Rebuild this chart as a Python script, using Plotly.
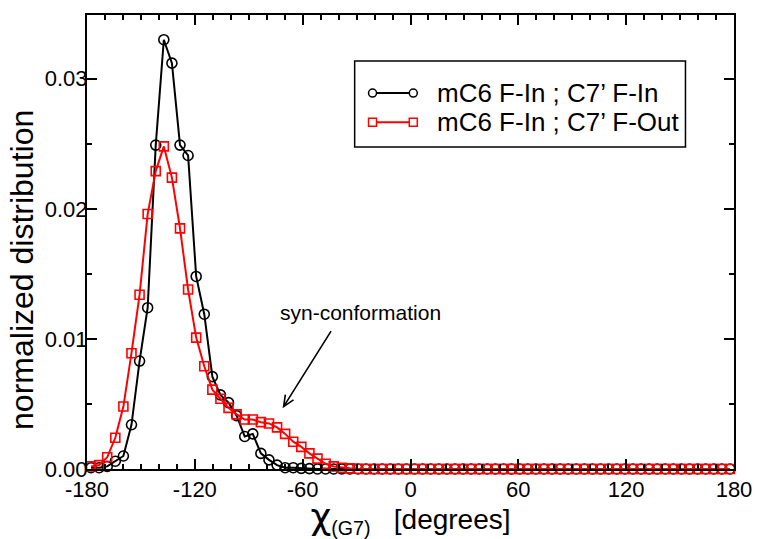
import numpy as np
import plotly.graph_objects as go

# Dihedral histogram: 4.5-degree bins spanning -180..180
bin_width = 4.5
chi_deg = np.arange(-180 + bin_width / 2, 180, bin_width)

# mC6 F-In ; C7' F-In
dist_in = [
    0.0001, 0.0001, 0.0002, 0.0006, 0.0010, 0.0034, 0.0083, 0.0124, 0.0249, 0.0330,
    0.0312, 0.0249, 0.0241, 0.0148, 0.0119, 0.0071, 0.0057, 0.0051, 0.0041, 0.0025,
    0.0027, 0.0012, 0.0007, 0.0003, 0.0001, 0.0001, 0.00005, 0.00003, 0.0, 0.0,
    0.0, 0.0, 0.0, 0.0, 0.0, 0.0, 0.0, 0.0, 0.0, 0.0,
    0.0, 0.0, 0.0, 0.0, 0.0, 0.0, 0.0, 0.0, 0.0, 0.0,
    0.0, 0.0, 0.0, 0.0, 0.0, 0.0, 0.0, 0.0, 0.0, 0.0,
    0.0, 0.0, 0.0, 0.0, 0.0, 0.0, 0.0, 0.0, 0.0, 0.0,
    0.0, 0.0, 0.0, 0.0, 0.0, 0.0, 0.0, 0.0, 0.0, 0.0,
]

# mC6 F-In ; C7' F-Out
dist_out = [
    0.0002, 0.0003, 0.0009, 0.0024, 0.0048, 0.0089, 0.0134, 0.0196, 0.0229, 0.0248,
    0.0224, 0.0185, 0.0138, 0.0101, 0.0079, 0.0061, 0.0054, 0.0047, 0.0042, 0.0038,
    0.0038, 0.0036, 0.0035, 0.0032, 0.0027, 0.0021, 0.0017, 0.0012, 0.0008, 0.0004,
    0.0002, 0.0001, 0.00005, 0.00002, 0.0, 0.0, 0.0, 0.0, 0.0, 0.0,
    0.0, 0.0, 0.0, 0.0, 0.0, 0.0, 0.0, 0.0, 0.0, 0.0,
    0.0, 0.0, 0.0, 0.0, 0.0, 0.0, 0.0, 0.0, 0.0, 0.0,
    0.0, 0.0, 0.0, 0.0, 0.0, 0.0, 0.0, 0.0, 0.0, 0.0,
    0.0, 0.0, 0.0, 0.0, 0.0, 0.0, 0.0, 0.0, 0.0, 0.0,
]

x_ticks = [-180, -120, -60, 0, 60, 120, 180]
series_names = ["mC6 F-In ; C7\u2019 F-In", "mC6 F-In ; C7\u2019 F-Out"]

FONT = "Liberation Sans, Arial, Helvetica, sans-serif"

W, H = 764, 539
MARGIN = dict(l=87, r=22, t=15, b=70)
X_RANGE = [-180, 180]
Y_RANGE = [0, 0.0349]

fig = go.Figure()

fig.add_trace(go.Scatter(
    x=chi_deg, y=dist_in, mode="lines+markers", name=series_names[0],
    line=dict(color="black", width=2),
    marker=dict(symbol="circle-open", size=10, color="black", line=dict(width=1.6)),
    cliponaxis=False, showlegend=False,
))
fig.add_trace(go.Scatter(
    x=chi_deg, y=dist_out, mode="lines+markers", name=series_names[1],
    line=dict(color="#ff0000", width=2),
    marker=dict(symbol="square-open", size=9, color="#ff0000", line=dict(width=1.6)),
    cliponaxis=False, showlegend=False,
))

axis_common = dict(
    showline=True, linecolor="black", linewidth=2, mirror="allticks",
    ticks="inside", ticklen=10, tickwidth=1.5, tickcolor="black",
    showgrid=False, zeroline=False,
    tickfont=dict(family=FONT, size=22, color="black"),
)

fig.update_xaxes(
    range=X_RANGE, tickvals=x_ticks, ticktext=[str(v) for v in x_ticks],
    minor=dict(dtick=10, tick0=-180, ticks="inside", ticklen=5, tickwidth=1.5,
               tickcolor="black", showgrid=False),
    title=dict(
        text=('<span style="font-family:DejaVu Sans;font-size:36px">\u03c7</span>'
              '<sub>(G7)</sub>&nbsp;&nbsp;&nbsp;[degrees]'),
        font=dict(family=FONT, size=28, color="black"), standoff=0,
    ),
    **axis_common,
)
fig.update_yaxes(
    range=Y_RANGE, dtick=0.01, tick0=0, tickformat=".2f",
    minor=dict(dtick=0.005, ticks="inside", ticklen=5, tickwidth=1.5,
               tickcolor="black", showgrid=False),
    ticklabelstandoff=-7,
    **axis_common,
)

# Y-axis label
fig.add_annotation(
    xref="paper", yref="paper", x=-0.1008, y=0.438, textangle=-90,
    text="normalized distribution", showarrow=False,
    xanchor="center", yanchor="middle",
    font=dict(family=FONT, size=32, color="black"),
)

# Label for the shoulder of the F-Out curve
fig.add_annotation(
    x=-28, y=0.0120, text="syn-conformation", showarrow=False,
    font=dict(family=FONT, size=21, color="black"),
)

# Arrow (shaft + open V head) drawn as a path in data coordinates
px_per_x = (W - MARGIN["l"] - MARGIN["r"]) / (X_RANGE[1] - X_RANGE[0])
px_per_y = (H - MARGIN["t"] - MARGIN["b"]) / (Y_RANGE[1] - Y_RANGE[0])
head = (-70.6, 0.0048)
tail = (-44.2, 0.0106)
dx_px = (tail[0] - head[0]) * px_per_x
dy_px = (tail[1] - head[1]) * px_per_y
norm = np.hypot(dx_px, dy_px)
ux, uy = dx_px / norm, dy_px / norm
barb_len, barb_ang = 12.0, np.radians(24)
barbs = []
for s in (1, -1):
    c, sn = np.cos(s * barb_ang), np.sin(s * barb_ang)
    bx, by = ux * c - uy * sn, ux * sn + uy * c
    barbs.append((head[0] + bx * barb_len / px_per_x, head[1] + by * barb_len / px_per_y))
arrow_path = (f"M {tail[0]},{tail[1]} L {head[0]},{head[1]} "
              f"M {barbs[0][0]},{barbs[0][1]} L {head[0]},{head[1]} L {barbs[1][0]},{barbs[1][1]}")
fig.add_shape(type="path", xref="x", yref="y", path=arrow_path,
              line=dict(color="black", width=1.6), layer="above")

# Framed legend with a marker at each end of the line sample
legend_box = dict(x0=0.4137, x1=0.925, y0=0.709, y1=0.8987)
fig.add_shape(type="rect", xref="paper", yref="paper", **legend_box,
              line=dict(color="black", width=1.5), fillcolor="white", layer="above")

legend_rows = [0.828, 0.764]
legend_colors = ["black", "#ff0000"]
legend_kinds = ["circle", "rect"]
gx0, gx1, text_x = 0.4413, 0.5043, 0.5375
for row_y, col, kind, name in zip(legend_rows, legend_colors, legend_kinds, series_names):
    fig.add_shape(type="line", xref="paper", yref="paper", x0=gx0, x1=gx1,
                  y0=row_y, y1=row_y, line=dict(color=col, width=2), layer="above")
    for gx in (gx0, gx1):
        half = 4
        fig.add_shape(type=kind, xref="paper", yref="paper",
                      xsizemode="pixel", ysizemode="pixel",
                      xanchor=gx, yanchor=row_y,
                      x0=-half, x1=half, y0=-half, y1=half,
                      line=dict(color=col, width=1.5), fillcolor="white", layer="above")
    fig.add_annotation(xref="paper", yref="paper", x=text_x, y=row_y, text=name,
                       showarrow=False, xanchor="left", yanchor="middle",
                       font=dict(family=FONT, size=26, color="black"))

fig.update_layout(
    width=W, height=H,
    margin=MARGIN,
    paper_bgcolor="white", plot_bgcolor="white",
    font=dict(family=FONT, color="black"),
)

fig.write_html("out.html")
